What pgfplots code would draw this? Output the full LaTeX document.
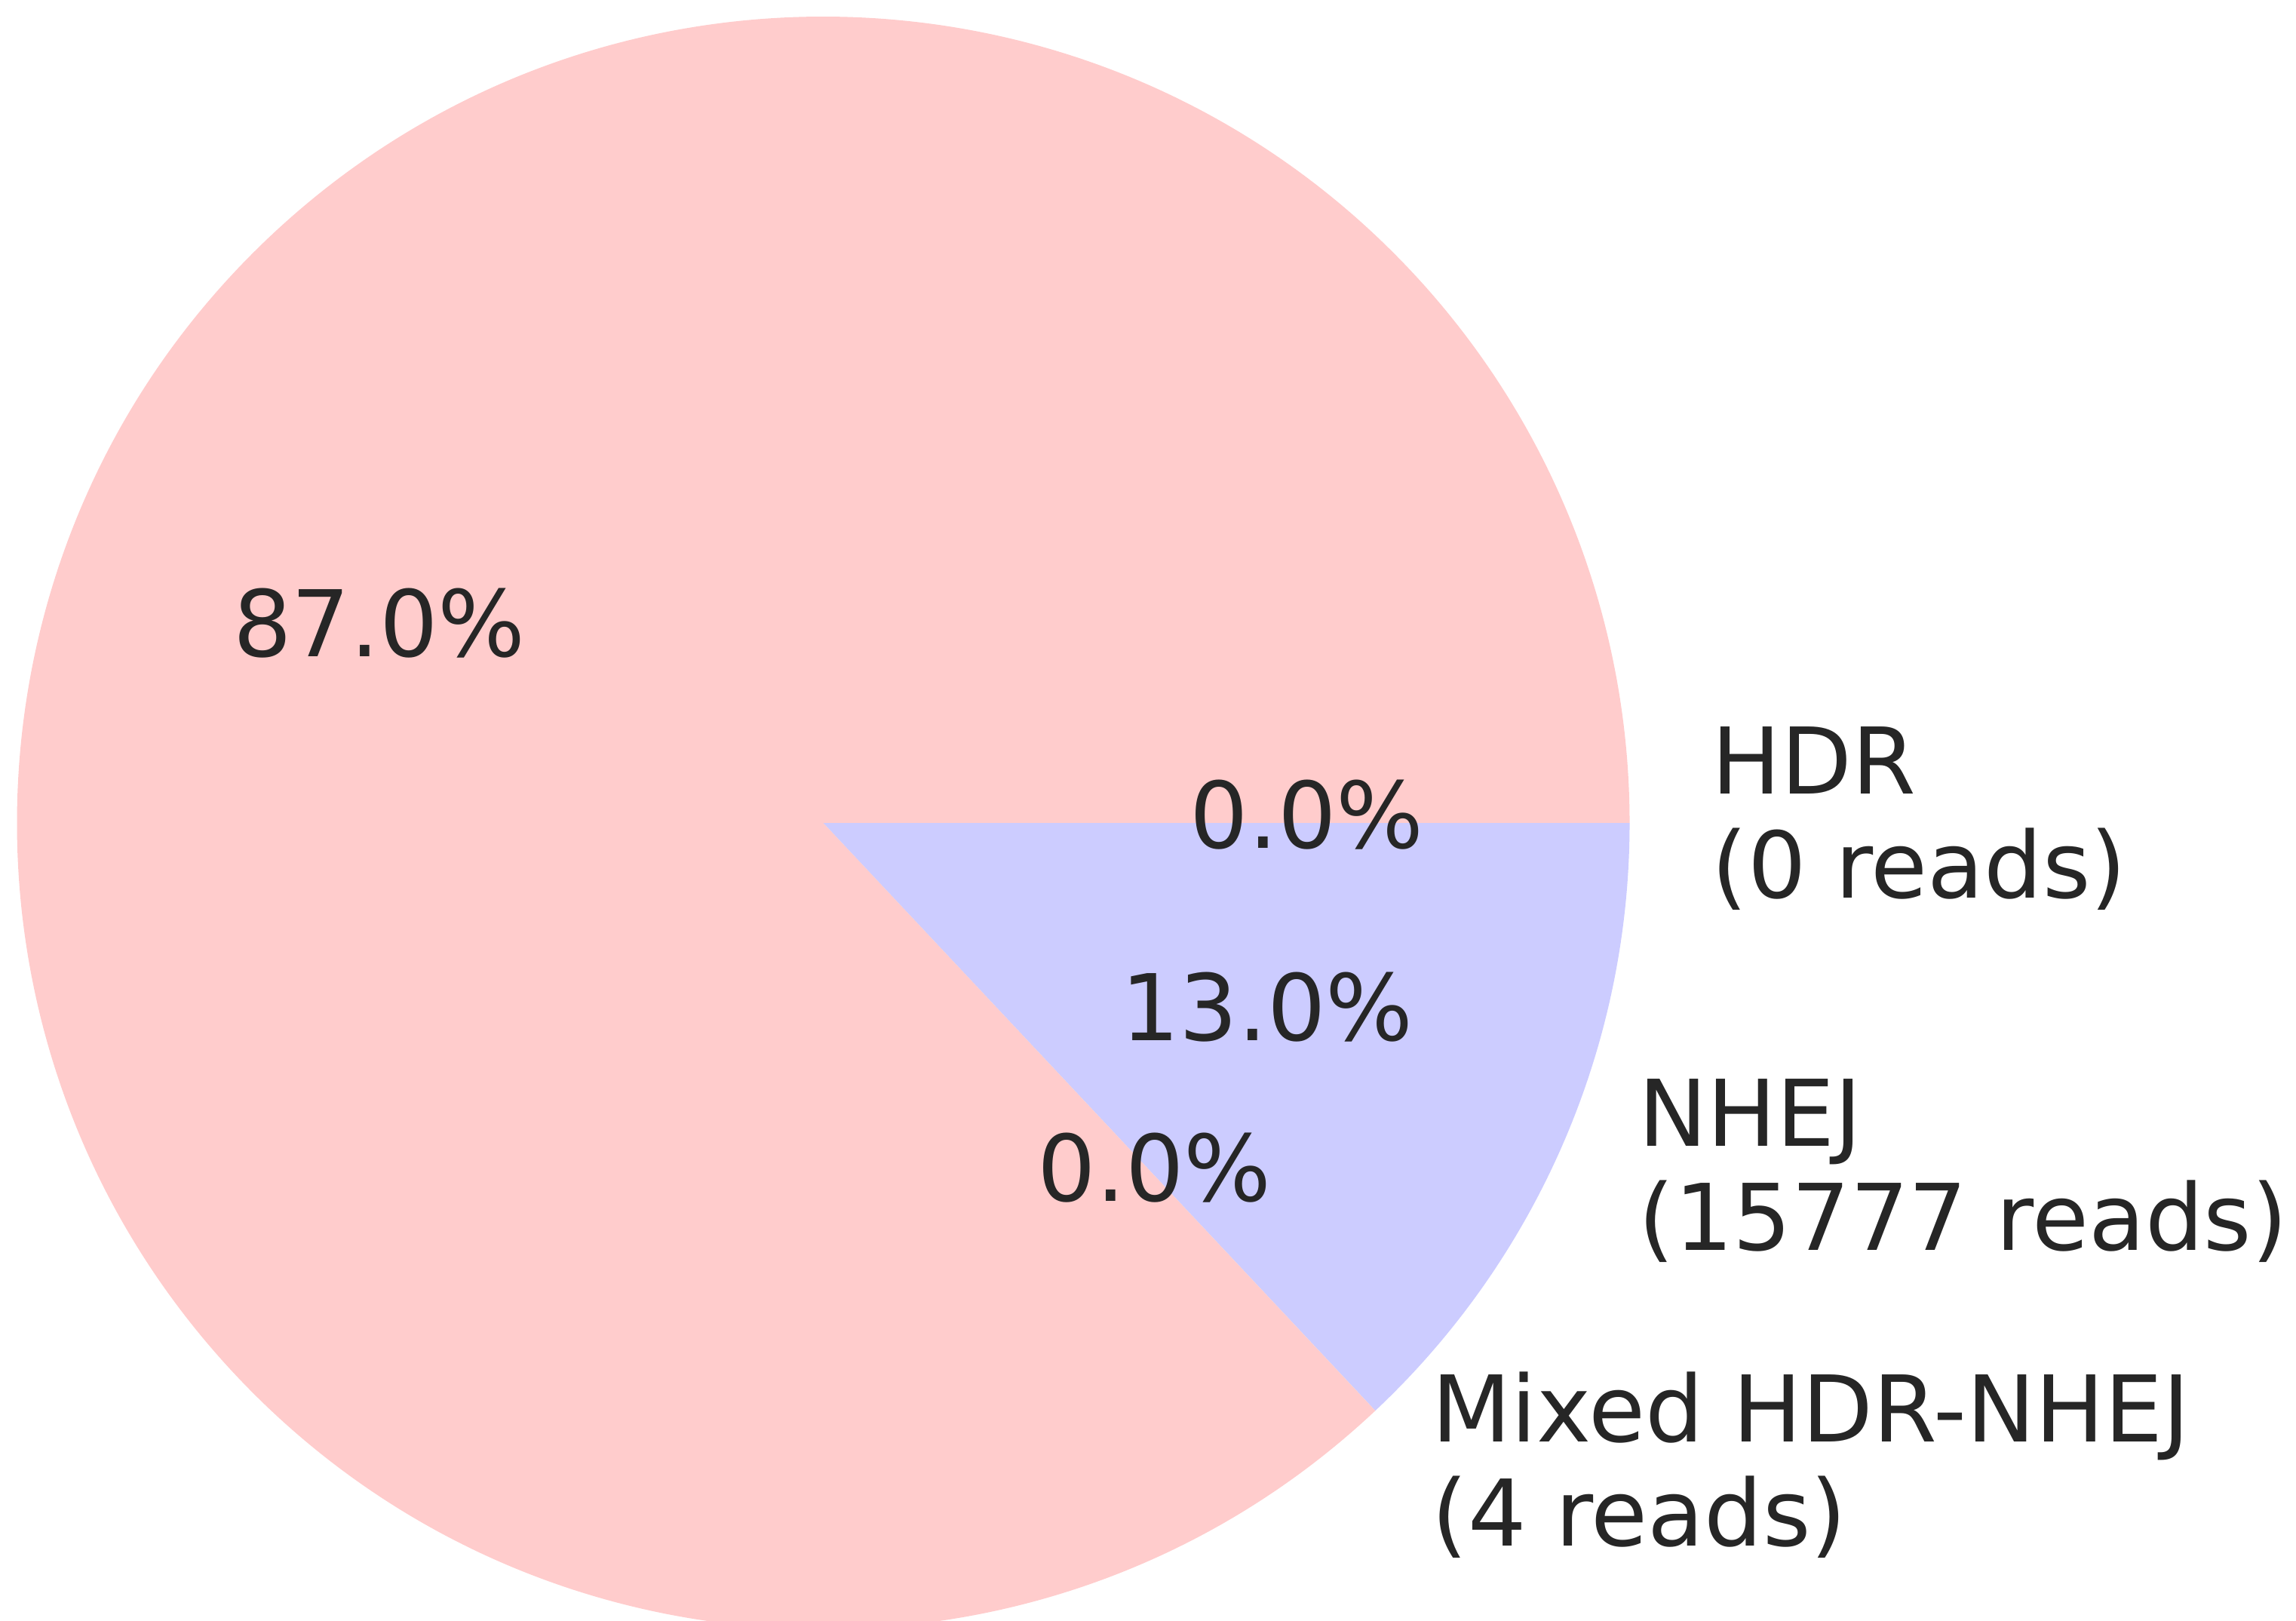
\documentclass[border=0pt]{standalone}
\usepackage{pgfplots}
\pgfplotsset{compat=1.18}
\usepackage{pgfplotstable}
\usepackage{fontspec}
\setmainfont{DejaVu Sans}
\definecolor{pinkc}{HTML}{FFCCCC}
\definecolor{bluec}{HTML}{CCCCFF}
\definecolor{txt}{HTML}{262626}
\newcommand\lbl{\fontsize{12.2}{13.76}\selectfont}
\pgfplotstableread{
label reads
HDR 0
NHEJ 15777
Mixed 4
Other 105600
}\pietable
\begin{document}
\begin{tikzpicture}
\pgfplotstablegetelem{0}{reads}\of\pietable \let\rHDR\pgfplotsretval
\pgfplotstablegetelem{1}{reads}\of\pietable \let\rNHEJ\pgfplotsretval
\pgfplotstablegetelem{2}{reads}\of\pietable \let\rMix\pgfplotsretval
\pgfplotstablegetelem{3}{reads}\of\pietable \let\rOth\pgfplotsretval
\pgfkeys{/pgf/fpu=true,/pgf/fpu/output format=fixed}
\pgfmathsetmacro\tot{\rHDR+\rNHEJ+\rMix+\rOth}
\pgfmathsetmacro\aA{-360*\rHDR/\tot}
\pgfmathsetmacro\aB{\aA-360*\rNHEJ/\tot}
\pgfmathsetmacro\aC{\aB-360*\rMix/\tot}
\pgfmathsetmacro\mA{\aA/2}
\pgfmathsetmacro\mB{(\aA+\aB)/2}
\pgfmathsetmacro\mC{(\aB+\aC)/2}
\pgfmathsetmacro\mD{(\aC-360)/2}
\pgfkeys{/pgf/fpu=false}
\begin{axis}[
  hide axis, clip=true,
  x=106.9pt, y=106.9pt,
  xmin=-1.02104, xmax=1.82647,
  ymin=-0.98878, ymax=1.02058,
]
% unlabeled remainder
\fill[pinkc] (axis cs:0,0) -- (axis cs:{cos(\aC)},{sin(\aC)}) arc[start angle=\aC, end angle=-360, radius=106.9pt] -- cycle;
% HDR (0 reads)
\fill[pinkc] (axis cs:0,0) -- (axis cs:1,0) arc[start angle=0, end angle=\aA-0.0001, radius=106.9pt] -- cycle;
% NHEJ
\fill[bluec] (axis cs:0,0) -- (axis cs:{cos(\aA)},{sin(\aA)}) arc[start angle=\aA, end angle=\aB, radius=106.9pt] -- cycle;
% Mixed
\fill[pinkc] (axis cs:0,0) -- (axis cs:{cos(\aB)},{sin(\aB)}) arc[start angle=\aB, end angle=\aC, radius=106.9pt] -- cycle;
% percentages
\begin{scope}[every node/.style={font=\lbl, text=txt, inner sep=0pt, yshift=1.05pt}]
\node at (axis cs:{0.6*cos(\mD)},{0.6*sin(\mD)}) {87.0\%};
\node at (axis cs:{0.6*cos(\mA)},{0.6*sin(\mA)}) {0.0\%};
\node at (axis cs:{0.6*cos(\mB)},{0.6*sin(\mB)}) {13.0\%};
\node at (axis cs:{0.6*cos(\mC)},{0.6*sin(\mC)}) {0.0\%};
\end{scope}
% labels
\begin{scope}[every node/.style={font=\lbl, text=txt, inner sep=0pt, anchor=west, align=left, yshift=0.6pt}]
\node at (axis cs:{1.1*cos(\mA)},{1.1*sin(\mA)}) {HDR\\(0 reads)};
\node at (axis cs:{1.1*cos(\mB)},{1.1*sin(\mB)}) {NHEJ\\(15777 reads)};
\node at (axis cs:{1.1*cos(\mC)},{1.1*sin(\mC)}) {Mixed HDR-NHEJ\\(4 reads)};
\end{scope}
\end{axis}
\pgfresetboundingbox
\path (current axis.south west) rectangle (current axis.north east);
\end{tikzpicture}
\end{document}
